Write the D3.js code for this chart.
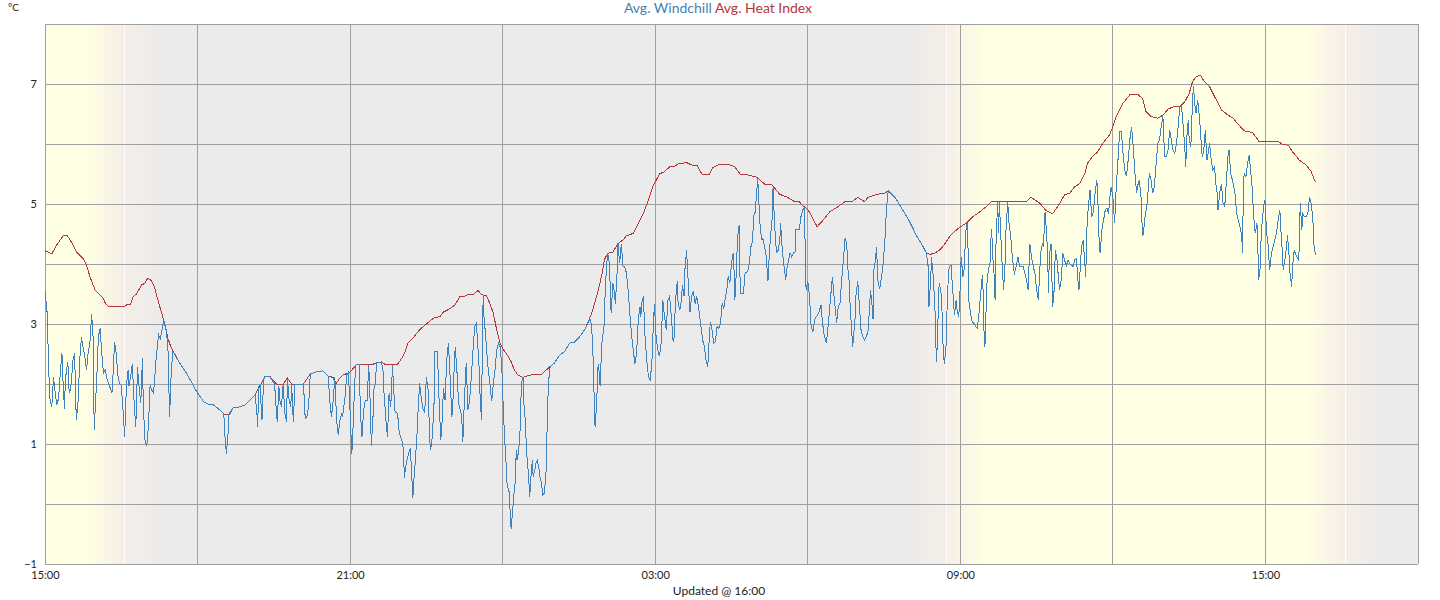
<!DOCTYPE html>
<html><head><meta charset="utf-8">
<script src="https://cdn.jsdelivr.net/npm/d3@7"></script>
<style>body{margin:0;background:#fff;} svg{display:block;font-family:Lato,"Open Sans",sans-serif;}</style>
</head><body><svg id="chart" width="1440" height="600"></svg>
<script>
// time = minutes after 15:00 on the first day
const heatIndex = [[0,4.22],[8,4.17],[14,4.32],[22,4.48],[26,4.48],[31,4.37],[37,4.2],[45,4.09],[49,3.98],[53,3.79],[59,3.57],[65,3.48],[69,3.43],[71,3.35],[75,3.29],[94,3.29],[97,3.33],[101,3.33],[104,3.46],[108,3.5],[114,3.65],[118,3.68],[121,3.76],[125,3.73],[129,3.62],[132,3.46],[136,3.26],[140,3.07],[145,2.76],[149,2.6],[159,2.35],[167,2.18],[179,1.87],[187,1.71],[191,1.67],[199,1.65],[206,1.57],[211,1.5],[218,1.5],[222,1.6],[230,1.62],[236,1.65],[242,1.73],[248,1.82],[254,1.98],[259,2.12],[265,2.13],[273,2.0],[281,2.0],[286,2.1],[291,2.0],[305,2.0],[313,2.17],[320,2.2],[328,2.22],[334,2.13],[340,2.11],[343,2.0],[348,2.1],[352,2.15],[360,2.2],[368,2.33],[387,2.33],[391,2.35],[397,2.37],[401,2.33],[416,2.33],[421,2.43],[425,2.54],[428,2.68],[434,2.76],[440,2.87],[444,2.93],[450,3.0],[456,3.07],[460,3.11],[466,3.12],[470,3.2],[476,3.24],[484,3.32],[489,3.45],[495,3.46],[499,3.49],[505,3.49],[511,3.56],[515,3.49],[521,3.47],[525,3.34],[529,3.18],[533,2.9],[537,2.68],[541,2.57],[546,2.47],[550,2.37],[554,2.23],[558,2.15],[564,2.11],[570,2.14],[578,2.16],[586,2.16],[592,2.24],[596,2.29],[601,2.35],[607,2.48],[613,2.54],[619,2.68],[625,2.7],[631,2.79],[637,2.91],[641,3.04],[645,3.18],[649,3.37],[653,3.57],[657,3.82],[660,4.07],[664,4.18],[670,4.2],[676,4.34],[682,4.4],[686,4.47],[694,4.51],[700,4.68],[706,4.84],[712,5.07],[717,5.29],[725,5.5],[731,5.54],[737,5.62],[743,5.63],[747,5.67],[757,5.69],[763,5.65],[769,5.65],[775,5.5],[784,5.5],[788,5.61],[796,5.66],[806,5.66],[814,5.62],[820,5.5],[831,5.48],[841,5.44],[849,5.33],[857,5.33],[867,5.16],[875,5.12],[883,5.05],[890,5.04],[894,4.97],[900,4.91],[906,4.76],[911,4.62],[918,4.73],[926,4.87],[934,4.94],[944,5.04],[953,5.05],[959,5.11],[967,5.04],[971,5.11],[981,5.16],[991,5.18],[995,5.22],[1004,5.09],[1012,4.9],[1020,4.71],[1028,4.48],[1036,4.29],[1040,4.18],[1044,4.16],[1050,4.18],[1056,4.24],[1061,4.32],[1067,4.45],[1073,4.54],[1079,4.61],[1087,4.68],[1095,4.79],[1103,4.87],[1111,4.96],[1117,5.04],[1158,5.04],[1163,5.11],[1168,5.07],[1174,5.01],[1181,4.89],[1189,4.84],[1195,4.96],[1203,5.15],[1209,5.18],[1215,5.29],[1221,5.34],[1227,5.51],[1230,5.68],[1236,5.79],[1242,5.87],[1248,6.01],[1256,6.15],[1260,6.29],[1264,6.46],[1272,6.68],[1280,6.82],[1289,6.83],[1295,6.76],[1299,6.54],[1305,6.46],[1313,6.43],[1319,6.48],[1325,6.58],[1331,6.62],[1339,6.62],[1345,6.71],[1350,6.84],[1354,7.04],[1358,7.12],[1363,7.15],[1368,7.04],[1374,6.96],[1380,6.79],[1388,6.57],[1396,6.48],[1402,6.43],[1407,6.34],[1415,6.22],[1425,6.19],[1432,6.05],[1455,6.05],[1459,6.0],[1467,5.98],[1472,5.87],[1480,5.73],[1488,5.65],[1494,5.54],[1499,5.36]];

const windchill = [[0,3.55],[3,3.12],[4,2.34],[6,1.73],[8,1.62],[9,1.85],[10,2.12],[12,1.85],[14,1.65],[16,1.76],[18,2.18],[20,2.51],[21,2.12],[23,1.59],[24,2.07],[26,2.29],[27,2.37],[28,1.96],[29,1.85],[31,2.01],[33,2.4],[35,2.51],[36,1.85],[37,1.4],[39,1.71],[41,2.4],[43,2.78],[45,2.6],[47,2.46],[49,2.23],[51,2.54],[53,2.68],[55,3.16],[57,2.73],[58,1.23],[61,2.07],[63,2.79],[65,2.93],[67,2.51],[69,2.18],[71,2.23],[73,2.09],[75,2.01],[79,1.85],[81,2.34],[82,2.7],[84,2.51],[86,2.15],[88,2.01],[90,1.98],[92,1.57],[94,1.12],[96,1.96],[98,2.23],[99,1.96],[101,2.12],[103,2.34],[105,1.73],[107,1.29],[108,1.62],[109,2.29],[111,1.96],[113,1.68],[115,2.43],[116,1.62],[118,1.07],[120,0.96],[122,1.29],[124,1.98],[126,1.9],[128,1.85],[129,2.01],[131,2.4],[134,2.82],[136,2.76],[138,2.9],[140,3.07],[143,2.9],[145,2.62],[147,1.45],[149,2.23],[151,2.54],[159,2.35],[167,2.18],[179,1.87],[187,1.71],[191,1.67],[199,1.65],[206,1.57],[211,1.5],[212,1.18],[214,0.84],[216,1.18],[217,1.5],[222,1.6],[230,1.62],[236,1.65],[242,1.73],[248,1.82],[250,1.51],[251,1.29],[252,1.96],[254,1.98],[255,1.62],[256,1.4],[258,2.07],[259,2.12],[265,2.13],[271,2.0],[272,1.73],[274,1.37],[276,1.96],[277,1.73],[279,1.62],[281,2.0],[283,1.51],[285,1.37],[286,2.1],[288,1.73],[290,1.62],[291,2.0],[293,1.37],[295,2.0],[305,2.0],[307,1.43],[309,1.45],[311,1.62],[313,2.17],[320,2.2],[328,2.22],[334,2.13],[336,1.73],[338,1.45],[340,1.73],[342,2.11],[344,1.4],[346,1.15],[348,1.4],[350,1.51],[351,1.45],[353,1.68],[354,1.79],[356,2.15],[358,2.2],[359,1.87],[361,1.18],[362,0.84],[363,1.07],[364,1.51],[366,2.18],[367,2.33],[371,2.32],[372,1.57],[374,1.12],[376,1.57],[378,1.73],[380,1.73],[381,2.01],[382,2.32],[384,1.57],[385,0.96],[387,1.45],[388,1.9],[390,2.01],[391,2.35],[397,2.37],[399,2.2],[400,1.85],[402,1.45],[404,1.12],[405,1.45],[406,1.85],[408,1.62],[410,2.32],[411,2.01],[413,1.54],[416,1.51],[418,1.18],[421,1.07],[423,0.9],[424,0.43],[425,0.57],[427,0.73],[429,0.84],[431,0.93],[432,0.68],[434,0.1],[435,0.35],[437,0.73],[439,1.18],[440,1.51],[442,2.01],[444,1.76],[446,1.59],[448,1.52],[450,2.12],[452,1.9],[454,1.07],[455,0.9],[457,1.12],[459,1.68],[460,2.54],[463,2.54],[465,1.73],[467,1.07],[469,1.45],[470,1.93],[472,1.73],[474,2.4],[476,2.68],[478,2.12],[480,1.45],[481,1.57],[482,2.01],[484,2.62],[486,2.23],[488,1.68],[491,1.51],[492,1.34],[493,1.04],[495,1.79],[497,2.35],[499,1.57],[501,1.73],[503,2.12],[505,2.57],[507,2.96],[509,3.01],[510,2.79],[512,2.34],[513,1.9],[515,1.4],[516,2.57],[517,3.48],[518,3.12],[520,2.79],[521,2.57],[523,2.23],[525,2.01],[527,1.71],[529,2.01],[531,2.23],[533,2.57],[535,2.68],[537,2.62],[539,2.29],[540,1.85],[542,1.18],[544,0.68],[545,0.35],[546,0.29],[548,0.18],[549,-0.21],[550,-0.41],[552,-0.07],[553,0.12],[555,0.4],[556,0.9],[557,0.73],[559,0.9],[561,1.34],[562,2.01],[564,2.11],[565,1.68],[567,1.34],[568,0.9],[570,0.57],[572,0.12],[573,0.4],[575,0.73],[576,0.45],[578,0.57],[579,0.68],[581,0.73],[583,0.57],[584,0.45],[586,0.35],[587,0.15],[589,0.18],[591,0.45],[592,1.01],[593,1.57],[594,2.01],[596,2.29],[601,2.35],[607,2.48],[613,2.54],[619,2.68],[625,2.7],[631,2.79],[637,2.91],[643,3.09],[645,2.96],[647,2.34],[648,1.73],[649,1.29],[651,1.68],[652,2.23],[653,2.34],[655,1.96],[656,2.34],[657,2.68],[660,3.01],[661,3.57],[663,4.04],[664,4.18],[666,4.01],[667,3.57],[668,3.18],[670,3.68],[671,3.62],[673,3.34],[675,3.85],[676,4.34],[678,4.01],[680,4.34],[682,3.96],[684,3.96],[686,3.85],[688,3.57],[690,3.18],[692,2.84],[694,2.57],[696,2.34],[698,2.51],[700,3.07],[702,3.29],[703,3.12],[704,3.34],[706,3.46],[708,2.79],[710,2.4],[712,2.12],[714,2.07],[716,2.34],[717,2.73],[719,3.34],[721,2.79],[723,2.57],[725,2.46],[727,2.68],[729,3.4],[731,3.12],[733,2.9],[735,3.4],[737,3.46],[739,3.12],[741,2.73],[742,2.71],[744,3.4],[746,3.71],[747,3.34],[749,3.23],[751,3.4],[752,3.65],[754,3.46],[755,3.9],[757,4.23],[759,3.68],[761,3.2],[763,3.46],[765,3.54],[767,3.34],[769,3.46],[771,3.29],[773,3.07],[775,2.84],[776,2.73],[778,2.62],[780,2.4],[782,2.29],[783,2.57],[785,3.04],[787,2.9],[789,2.68],[791,2.71],[793,2.96],[795,2.93],[797,3.01],[799,3.34],[801,3.26],[803,3.46],[805,3.62],[806,3.79],[808,3.68],[810,4.01],[812,4.18],[813,3.9],[814,3.4],[816,3.96],[817,4.43],[819,4.65],[820,3.79],[821,3.51],[824,3.51],[826,3.85],[829,3.87],[831,4.01],[833,4.29],[835,4.4],[836,4.79],[838,4.87],[839,5.07],[841,5.43],[842,5.12],[844,4.57],[846,4.4],[847,4.43],[849,4.29],[851,4.12],[853,3.71],[854,4.01],[856,4.46],[858,4.76],[859,5.26],[860,4.93],[861,4.62],[863,4.2],[865,4.23],[867,4.4],[868,4.68],[869,4.4],[871,4.09],[873,3.85],[874,3.73],[875,3.9],[877,4.04],[879,4.18],[881,4.12],[883,4.18],[885,4.2],[886,4.57],[888,4.57],[890,4.58],[892,4.79],[894,4.9],[896,4.94],[897,4.23],[898,3.57],[900,3.71],[902,3.46],[904,2.96],[906,2.87],[908,3.07],[910,3.12],[913,3.18],[915,3.29],[916,3.32],[917,3.07],[919,2.84],[921,2.73],[922,2.68],[924,2.96],[926,3.29],[928,3.62],[929,3.79],[931,3.46],[933,3.18],[934,3.01],[936,3.29],[938,3.34],[940,3.73],[942,4.07],[944,4.43],[946,4.34],[947,3.96],[949,3.68],[950,3.29],[952,2.84],[953,2.62],[954,2.79],[956,3.12],[957,3.51],[959,3.71],[961,3.29],[963,2.87],[965,2.79],[967,2.73],[969,2.79],[971,2.87],[973,3.29],[974,3.57],[976,3.29],[977,3.08],[978,3.9],[980,4.07],[981,4.29],[983,3.68],[985,3.59],[987,3.79],[989,4.01],[991,4.4],[993,4.96],[995,5.22],[1004,5.09],[1012,4.9],[1020,4.71],[1028,4.48],[1036,4.29],[1040,4.18],[1042,3.96],[1043,3.29],[1045,3.73],[1046,4.12],[1048,3.79],[1050,3.29],[1051,2.71],[1052,2.37],[1053,2.79],[1055,3.68],[1056,3.62],[1058,3.46],[1059,2.79],[1061,2.34],[1063,2.57],[1064,3.12],[1066,3.85],[1067,3.96],[1069,3.98],[1071,3.57],[1073,3.15],[1075,3.4],[1076,3.26],[1078,3.12],[1079,3.29],[1081,4.12],[1083,3.79],[1085,3.96],[1086,4.51],[1088,4.68],[1089,4.34],[1090,3.4],[1092,3.18],[1094,3.04],[1096,3.01],[1098,2.96],[1100,2.93],[1102,3.18],[1104,3.51],[1106,3.82],[1107,3.51],[1108,2.84],[1109,2.62],[1110,3.01],[1111,3.62],[1113,3.9],[1115,4.01],[1116,4.4],[1117,4.59],[1118,4.18],[1120,3.79],[1121,3.4],[1122,4.29],[1124,5.04],[1125,4.51],[1126,5.04],[1128,4.4],[1129,4.07],[1131,3.57],[1133,4.07],[1134,4.62],[1136,5.04],[1137,4.73],[1138,4.62],[1140,4.37],[1141,4.18],[1143,3.9],[1144,3.85],[1146,3.96],[1148,4.12],[1150,3.96],[1154,3.96],[1158,3.73],[1160,3.57],[1162,4.34],[1164,4.12],[1166,3.96],[1168,3.85],[1170,3.57],[1172,3.4],[1174,3.96],[1175,4.2],[1177,4.34],[1178,4.29],[1180,4.87],[1181,4.68],[1183,4.18],[1184,3.51],[1185,4.12],[1187,4.34],[1188,3.79],[1189,3.29],[1191,3.62],[1192,4.23],[1194,4.07],[1196,3.73],[1197,3.57],[1199,3.73],[1201,4.18],[1203,4.07],[1205,3.96],[1207,4.07],[1209,4.01],[1211,3.98],[1213,3.96],[1215,4.07],[1217,4.09],[1219,3.68],[1220,3.57],[1222,4.07],[1223,4.29],[1225,4.4],[1226,4.18],[1228,3.79],[1229,4.51],[1231,4.96],[1233,5.23],[1235,4.79],[1237,4.87],[1239,5.18],[1241,5.4],[1242,5.18],[1244,4.29],[1245,4.18],[1247,4.57],[1249,4.73],[1251,4.9],[1253,4.93],[1255,4.84],[1256,5.07],[1258,5.29],[1260,5.12],[1262,4.68],[1264,5.29],[1266,5.73],[1268,6.21],[1270,6.21],[1272,5.84],[1274,5.57],[1276,5.46],[1278,5.73],[1280,6.07],[1282,6.29],[1284,5.96],[1286,5.51],[1288,5.18],[1289,5.29],[1291,5.4],[1293,5.18],[1295,4.46],[1296,4.51],[1298,4.79],[1300,4.96],[1302,5.29],[1303,5.51],[1305,5.4],[1307,5.18],[1309,5.29],[1311,5.68],[1313,6.01],[1315,6.07],[1317,6.29],[1319,6.46],[1321,5.79],[1323,5.79],[1325,5.9],[1327,6.23],[1329,6.07],[1331,5.9],[1333,5.84],[1335,6.01],[1337,6.29],[1339,6.62],[1341,6.64],[1343,6.29],[1345,5.9],[1346,5.62],[1347,6.07],[1349,6.4],[1350,6.07],[1352,5.96],[1354,6.73],[1355,6.96],[1357,6.62],[1358,6.51],[1360,6.73],[1361,6.62],[1363,6.29],[1365,5.84],[1366,5.79],[1368,6.01],[1369,6.23],[1371,5.73],[1373,5.9],[1374,6.01],[1376,5.73],[1378,5.57],[1380,5.62],[1381,5.4],[1383,5.18],[1384,4.9],[1386,5.18],[1388,5.34],[1390,5.01],[1392,4.96],[1394,5.4],[1396,5.84],[1397,5.9],[1399,5.51],[1401,5.4],[1402,5.34],[1404,5.18],[1406,4.84],[1408,4.73],[1410,4.62],[1412,4.46],[1413,4.18],[1414,5.34],[1415,5.51],[1417,5.46],[1419,5.68],[1421,5.82],[1422,5.62],[1424,5.34],[1425,5.07],[1427,4.62],[1428,4.51],[1430,4.68],[1431,4.29],[1432,3.73],[1434,3.96],[1435,4.51],[1437,4.84],[1439,5.07],[1440,5.01],[1441,4.57],[1443,4.34],[1445,3.9],[1447,4.18],[1449,4.29],[1451,4.4],[1453,4.51],[1455,4.73],[1457,4.9],[1458,4.62],[1460,4.18],[1461,3.9],[1463,4.07],[1465,4.29],[1466,4.48],[1468,4.12],[1469,3.85],[1471,3.62],[1472,3.96],[1474,4.23],[1477,4.12],[1479,4.07],[1480,4.29],[1481,5.01],[1483,4.57],[1484,4.84],[1486,4.79],[1488,4.79],[1490,4.84],[1492,5.12],[1494,5.01],[1496,4.73],[1497,4.34],[1499,4.15]];

const yTickValues = [7, 5, 3, 1, -1];
const yGridValues = [-1, 0, 1, 2, 3, 4, 5, 6, 7, 8];
const xTickTimes = [0, 360, 720, 1080, 1440];
const xTickLabels = ["15:00", "21:00", "03:00", "09:00", "15:00"];
const xGridTimes = [0, 180, 360, 540, 720, 900, 1080, 1260, 1440, 1620];
const sunsetTimes = [93, 1534];
const sunriseTimes = [1063];
const twilight = 45;
const timeSpan = [0, 1620];
const seriesNames = ["Avg. Windchill", "Avg. Heat Index"];
const unitLabel = "°C";
const footerText = "Updated @ 16:00";

const W = 1440, H = 600;
const m = {l: 45, t: 24, r: 22, b: 36};
const colDay = "#ffffe3", colMid = "#f5eee8", colNight = "#ebebeb";
const colGrid = "#a0a0a0", colBlue = "#3f83be", colRed = "#b5363b";

const svg = d3.select("#chart");
const x = d3.scaleLinear().domain(timeSpan).range([m.l, W - m.r]);
const y = d3.scaleLinear().domain([-1, 8]).range([H - m.b, m.t]);
const pw = x(timeSpan[1]) - x(timeSpan[0]);

// day / night gradient
const stops = [[timeSpan[0], colDay]];
const evts = sunsetTimes.map(t => ({t, type: "set"})).concat(sunriseTimes.map(t => ({t, type: "rise"}))).sort((a, b) => a.t - b.t);
let startCol = colDay;
evts.forEach(e => {
  if (e.type === "set") { stops.push([e.t - twilight, colDay], [e.t, colMid], [e.t + twilight, colNight]); }
  else { stops.push([e.t - twilight, colNight], [e.t, colMid], [e.t + twilight, colDay]); }
});
stops.push([timeSpan[1], colNight]);
const grad = svg.append("defs").append("linearGradient").attr("id", "sky")
  .attr("gradientUnits", "userSpaceOnUse").attr("x1", x(timeSpan[0])).attr("x2", x(timeSpan[1])).attr("y1", 0).attr("y2", 0);
grad.selectAll("stop").data(stops).join("stop")
  .attr("offset", d => Math.max(0, Math.min(1, (x(d[0]) - x(timeSpan[0])) / pw)))
  .attr("stop-color", d => d[1]);

svg.append("rect").attr("x", x(timeSpan[0])).attr("y", y(8)).attr("width", pw).attr("height", y(-1) - y(8)).attr("fill", "url(#sky)");

// sunrise/sunset marker lines
svg.append("g").selectAll("line").data(sunsetTimes.concat(sunriseTimes)).join("line")
  .attr("x1", d => Math.round(x(d)) + 0.5).attr("x2", d => Math.round(x(d)) + 0.5)
  .attr("y1", y(8)).attr("y2", y(-1)).attr("stroke", "#ffffff").attr("stroke-opacity", 0.85).attr("stroke-width", 1);

// grid
const g = svg.append("g").attr("shape-rendering", "crispEdges").attr("stroke", colGrid).attr("stroke-width", 1);
g.selectAll("line.h").data(yGridValues).join("line").attr("class", "h")
  .attr("x1", x(timeSpan[0])).attr("x2", x(timeSpan[1])).attr("y1", d => y(d)).attr("y2", d => y(d));
g.selectAll("line.v").data(xGridTimes).join("line").attr("class", "v")
  .attr("x1", d => x(d)).attr("x2", d => x(d)).attr("y1", y(8)).attr("y2", y(-1));

// lines
const line = d3.line().x(d => x(d[0])).y(d => y(d[1]));
svg.append("path").datum(heatIndex).attr("d", line).attr("fill", "none").attr("stroke", colRed).attr("stroke-width", 1).attr("shape-rendering", "crispEdges");
svg.append("path").datum(windchill).attr("d", line).attr("fill", "none").attr("stroke", colBlue).attr("stroke-width", 1).attr("shape-rendering", "crispEdges");

// axes
const yAxis = svg.append("g").attr("transform", `translate(${m.l},0)`)
  .call(d3.axisLeft(y).tickValues(yTickValues).tickSize(0).tickPadding(8).tickFormat(d3.format("d")));
const xAxis = svg.append("g").attr("transform", `translate(0,${H - m.b})`)
  .call(d3.axisBottom(x).tickValues(xTickTimes).tickSize(0).tickPadding(7).tickFormat((d, i) => xTickLabels[i]));
[yAxis, xAxis].forEach(a => {
  a.select(".domain").remove();
  a.selectAll("text").attr("font-family", "Lato").attr("font-size", 11).attr("fill", "#222");
});

// title
const title = svg.append("text").attr("x", 718).attr("y", 13).attr("text-anchor", "middle")
  .attr("font-family", "Lato").attr("font-size", 14);
title.append("tspan").attr("fill", "#4682b4").text(seriesNames[0]);
title.append("tspan").attr("fill", "#b5363b").text(" " + seriesNames[1]);

svg.append("text").attr("x", 8).attr("y", 11).attr("font-family", "Lato").attr("font-size", 10).attr("fill", "#222").text(unitLabel);
svg.append("text").attr("x", 719).attr("y", 595).attr("text-anchor", "middle").attr("font-family", "Lato").attr("font-size", 12).attr("fill", "#222").text(footerText);
</script></body></html>
